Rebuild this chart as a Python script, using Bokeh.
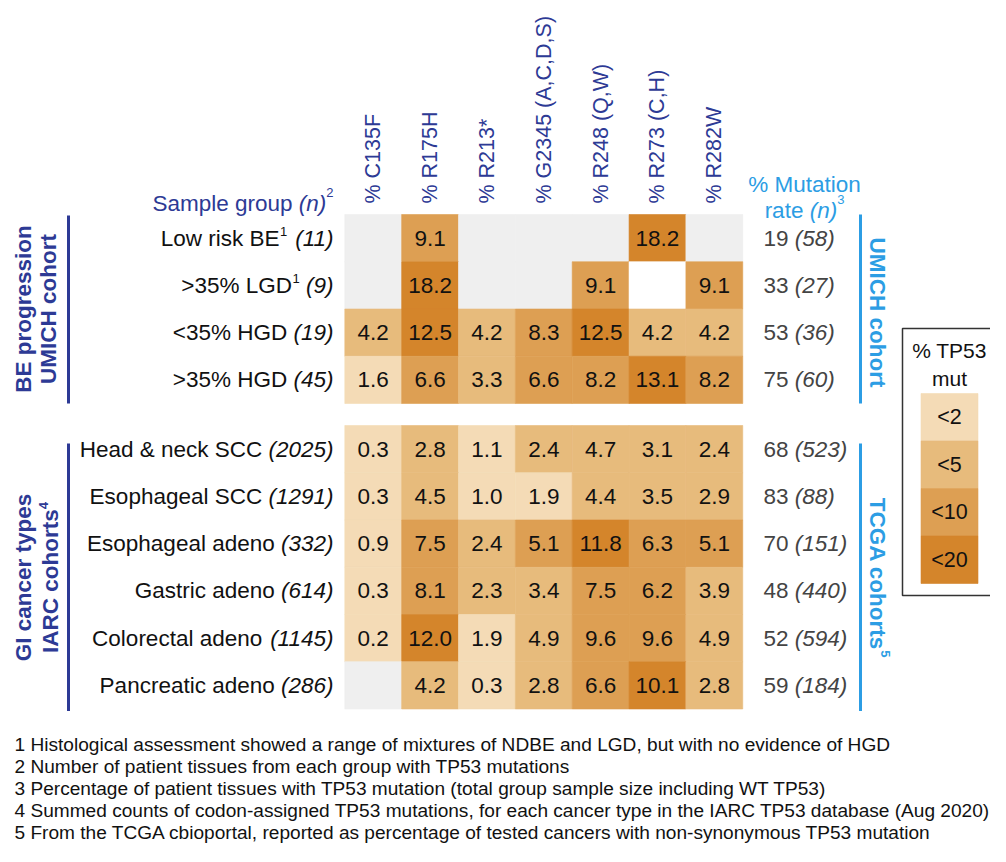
import math
from bokeh.plotting import figure
from bokeh.models import Range1d, ColumnDataSource
from bokeh.core.properties import value
from bokeh.embed import file_html
from bokeh.resources import INLINE

# ---------------- data ----------------
mutations = ["% C135F", "% R175H", "% R213*", "% G2345 (A,C,D,S)",
             "% R248 (Q,W)", "% R273 (C,H)", "% R282W"]
groups = ["Low risk BE", ">35% LGD", "<35% HGD", ">35% HGD",
          "Head & neck SCC", "Esophageal SCC", "Esophageal adeno",
          "Gastric adeno", "Colorectal adeno", "Pancreatic adeno"]
group_n = [11, 9, 19, 45, 2025, 1291, 332, 614, 1145, 286]
group_sup = ["1", "1", "", "", "", "", "", "", "", ""]
NA = None
row_low_risk = [NA, 9.1, NA, NA, NA, 18.2, NA]
row_lgd = [NA, 18.2, NA, NA, 9.1, 0.0, 9.1]
row_hgd_lo = [4.2, 12.5, 4.2, 8.3, 12.5, 4.2, 4.2]
row_hgd_hi = [1.6, 6.6, 3.3, 6.6, 8.2, 13.1, 8.2]
row_headneck = [0.3, 2.8, 1.1, 2.4, 4.7, 3.1, 2.4]
row_esoph_scc = [0.3, 4.5, 1.0, 1.9, 4.4, 3.5, 2.9]
row_esoph_adeno = [0.9, 7.5, 2.4, 5.1, 11.8, 6.3, 5.1]
row_gastric = [0.3, 8.1, 2.3, 3.4, 7.5, 6.2, 3.9]
row_colorectal = [0.2, 12.0, 1.9, 4.9, 9.6, 9.6, 4.9]
row_pancreatic = [NA, 4.2, 0.3, 2.8, 6.6, 10.1, 2.8]
values = [row_low_risk, row_lgd, row_hgd_lo, row_hgd_hi, row_headneck,
          row_esoph_scc, row_esoph_adeno, row_gastric, row_colorectal, row_pancreatic]
mut_rate = [19, 33, 53, 75, 68, 83, 70, 48, 52, 59]
mut_rate_n = [58, 27, 36, 60, 523, 88, 151, 440, 594, 184]
legend_labels = ["<2", "<5", "<10", "<20"]
legend_bins = [2, 5, 10, 20]
footnotes = [
    "1 Histological assessment showed a range of mixtures of NDBE and LGD, but with no evidence of HGD",
    "2 Number of patient tissues from each group with TP53 mutations",
    "3 Percentage of patient tissues with TP53 mutation (total group sample size including WT TP53)",
    "4 Summed counts of codon-assigned TP53 mutations, for each cancer type in the IARC TP53 database (Aug 2020)",
    "5 From the TCGA cbioportal, reported as percentage of tested cancers with non-synonymous TP53 mutation",
]

# ---------------- style ----------------
legend_colors = ["#f4dbb6", "#e7bb7c", "#dd9f53", "#d4852b"]
GRAY = "#efefef"
DARK = "#2d3a95"
LIGHT = "#2c9de4"
INK = "#111111"
GREY_TXT = "#444444"
FONT = "Liberation Sans"
FS = 22.5
HFS = 21.5
SFS = 13

# Arial / Liberation Sans advance widths (1/1000 em)
_REG = {' ': 278, '!': 278, '%': 889, '&': 667, '(': 333, ')': 333, '*': 389, ',': 278,
        '-': 333, '.': 278, '<': 584, '>': 584}
_REG.update({d: 556 for d in "0123456789"})
_REG.update(dict(zip("ABCDEFGHIJKLMNOPQRSTUVWXYZ",
                     [667, 667, 722, 722, 667, 611, 778, 722, 278, 500, 667, 556, 833, 722, 778,
                      667, 778, 722, 667, 611, 722, 667, 944, 667, 667, 611])))
_REG.update(dict(zip("abcdefghijklmnopqrstuvwxyz",
                     [556, 556, 500, 556, 556, 278, 556, 556, 222, 222, 500, 222, 833, 556, 556,
                      556, 556, 333, 500, 278, 556, 500, 722, 500, 500, 500])))
_BOLD = dict(_REG)
_BOLD.update(dict(zip("ABCDEFGHIJKLMNOPQRSTUVWXYZ",
                      [722, 722, 722, 722, 667, 611, 778, 722, 278, 556, 722, 611, 833, 722, 778,
                       667, 778, 722, 667, 611, 722, 667, 944, 667, 667, 611])))
_BOLD.update(dict(zip("abcdefghijklmnopqrstuvwxyz",
                      [556, 611, 556, 611, 556, 333, 611, 611, 278, 278, 556, 278, 889, 611, 611,
                       611, 611, 389, 556, 333, 611, 556, 778, 556, 556, 500])))


def tw(s, size, bold=False):
    t = _BOLD if bold else _REG
    return sum(t.get(c, 556) for c in s) * size / 1000.0


# ---------------- layout ----------------
W, H = 990, 846
X0, CW = 344.3, 56.85
Y0, RH, GAP = 214.0, 47.25, 22.0
LABEL_R = 333.0
RATE_X = 763.0


def row_top(i):
    return Y0 + i * RH + (GAP if i >= 4 else 0.0)


def cell_color(v):
    if v is None:
        return GRAY
    if v == 0:
        return "#ffffff"
    for b, c in zip(legend_bins, legend_colors):
        if v < b:
            return c
    return legend_colors[-1]


p = figure(width=W, height=H, x_range=Range1d(0, W), y_range=Range1d(H, 0),
           output_backend="svg", toolbar_location=None, min_border=0,
           x_axis_location=None, y_axis_location=None)
p.grid.visible = False
p.outline_line_color = None
p.background_fill_color = "white"
p.border_fill_color = "white"


def txt(x, y, s, size=FS, align="left", baseline="middle", angle=0.0, color=INK,
        style="normal"):
    p.text(x=[x], y=[y], text=[s], text_font=value(FONT), text_font_size=value(f"{size}px"),
           text_align=align, text_baseline=baseline, angle=angle, text_color=color,
           text_font_style=style)


# heatmap cells
cx, cy, cc, lab_x, lab_y, lab_t = [], [], [], [], [], []
for i, row in enumerate(values):
    yc = row_top(i) + RH / 2
    for j, v in enumerate(row):
        xc = X0 + CW * (j + 0.5)
        cx.append(xc)
        cy.append(yc)
        cc.append(cell_color(v))
        if v is not None and v != 0:
            lab_x.append(xc)
            lab_y.append(yc)
            lab_t.append(f"{v:.1f}")
src = ColumnDataSource(dict(x=cx, y=cy, color=cc))
p.rect(x="x", y="y", width=CW, height=RH, fill_color="color", line_color="color",
       line_width=0.6, source=src)
p.text(x=lab_x, y=lab_y, text=lab_t, text_font=value(FONT), text_font_size=value(f"{FS}px"),
       text_align="center", text_baseline="middle", text_color=INK)

# column headers (rotated)
for j, m in enumerate(mutations):
    txt(X0 + CW * (j + 0.5), 203, m, size=HFS, align="left", baseline="middle",
        angle=math.pi / 2, color=DARK)

# header "Sample group (n)^2"
w_sup = tw("2", SFS)
txt(LABEL_R, 192, "2", size=SFS, align="right", baseline="alphabetic", color=DARK)
txt(LABEL_R - w_sup, 203, "(n)", align="right", baseline="alphabetic", color=DARK,
    style="italic")
txt(LABEL_R - w_sup - tw("(n)", FS), 203, "Sample group ", align="right",
    baseline="alphabetic", color=DARK)

# header "% Mutation rate (n)^3"
txt(804, 183.5, "% Mutation", align="center", baseline="alphabetic", color=LIGHT)
tot = tw("rate ", FS) + tw("(n)", FS) + tw("3", SFS)
sx = 804 - tot / 2
txt(sx, 210, "rate ", align="left", baseline="alphabetic", color=LIGHT)
txt(sx + tw("rate ", FS), 210, "(n)", align="left", baseline="alphabetic", color=LIGHT,
    style="italic")
txt(sx + tw("rate ", FS) + tw("(n)", FS), 199, "3", size=SFS, align="left",
    baseline="alphabetic", color=LIGHT)

# row labels and mutation rates
for i, g in enumerate(groups):
    yc = row_top(i) + RH / 2
    it = f"({group_n[i]})"
    txt(LABEL_R, yc, it, align="right", color=INK, style="italic")
    end = LABEL_R - tw(it, FS) - tw(" ", FS)
    if group_sup[i]:
        txt(end, yc - 7, group_sup[i], size=SFS, align="right", color=INK)
        end -= tw(group_sup[i], SFS) + 0.5
    txt(end, yc, g, align="right", color=INK)
    a = f"{mut_rate[i]} "
    txt(RATE_X, yc, a, align="left", color=GREY_TXT)
    txt(RATE_X + tw(a, FS), yc, f"({mut_rate_n[i]})", align="left", color=GREY_TXT,
        style="italic")

# left cohort brackets
b1_top, b1_bot = row_top(0), row_top(3) + RH
b2_top, b2_bot = row_top(4) + 18, row_top(9) + RH + 2
p.segment(x0=[68, 68], y0=[b1_top + 1, b2_top], x1=[68, 68], y1=[b1_bot, b2_bot],
          line_color=DARK, line_width=3)
c1 = (b1_top + b1_bot) / 2
txt(23, c1, "BE progression", align="center", angle=math.pi / 2, color=DARK, style="bold")
txt(48, c1, "UMICH cohort", align="center", angle=math.pi / 2, color=DARK, style="bold")
c2 = 577
txt(23, c2, "GI cancer types", align="center", angle=math.pi / 2, color=DARK, style="bold")
wm = tw("IARC cohorts", FS, bold=True)
start = c2 + (wm + tw("4", SFS)) / 2
txt(50, start, "IARC cohorts", align="left", angle=math.pi / 2, color=DARK, style="bold")
txt(50 - 7.5, start - wm, "4", size=SFS, align="left", angle=math.pi / 2, color=DARK,
    style="bold")

# right cohort brackets
p.segment(x0=[860, 860], y0=[b1_top, b2_top], x1=[860, 860], y1=[b1_bot, b2_bot],
          line_color=LIGHT, line_width=3)
txt(877, 312, "UMICH cohort", align="center", angle=-math.pi / 2, color=LIGHT, style="bold")
wm = tw("TCGA cohorts", FS, bold=True)
start = c2 - (wm + tw("5", SFS)) / 2
txt(877, start, "TCGA cohorts", align="left", angle=-math.pi / 2, color=LIGHT, style="bold")
txt(877 + 7.5, start + wm, "5", size=SFS, align="left", angle=-math.pi / 2, color=LIGHT,
    style="bold")

# legend (shifted slightly left so its title stays inside the canvas)
LX = 902.0
LCX = LX + 47
p.quad(left=[LX], right=[W + 20], top=[328], bottom=[595], fill_color=None,
       line_color="#333333", line_width=1.5)
txt(LCX, 350, "% TP53", size=21, align="center", color=INK)
txt(LCX, 378, "mut", size=21, align="center", color=INK)
LY0, LH = 393.0, 47.5
p.rect(x=[LCX] * 4, y=[LY0 + LH * (k + 0.5) for k in range(4)], width=57, height=LH,
       fill_color=legend_colors, line_color=legend_colors, line_width=0.6)
p.text(x=[LCX] * 4, y=[LY0 + LH * (k + 0.5) for k in range(4)], text=legend_labels,
       text_font=value(FONT), text_font_size=value(f"{HFS}px"), text_align="center",
       text_baseline="middle", text_color=INK)

# footnotes
FN_FS = 19.1
for k, f in enumerate(footnotes):
    txt(14, 744 + 22 * k, f, size=FN_FS, align="left", color=INK)

open("out.html", "w").write(file_html(p, INLINE))
